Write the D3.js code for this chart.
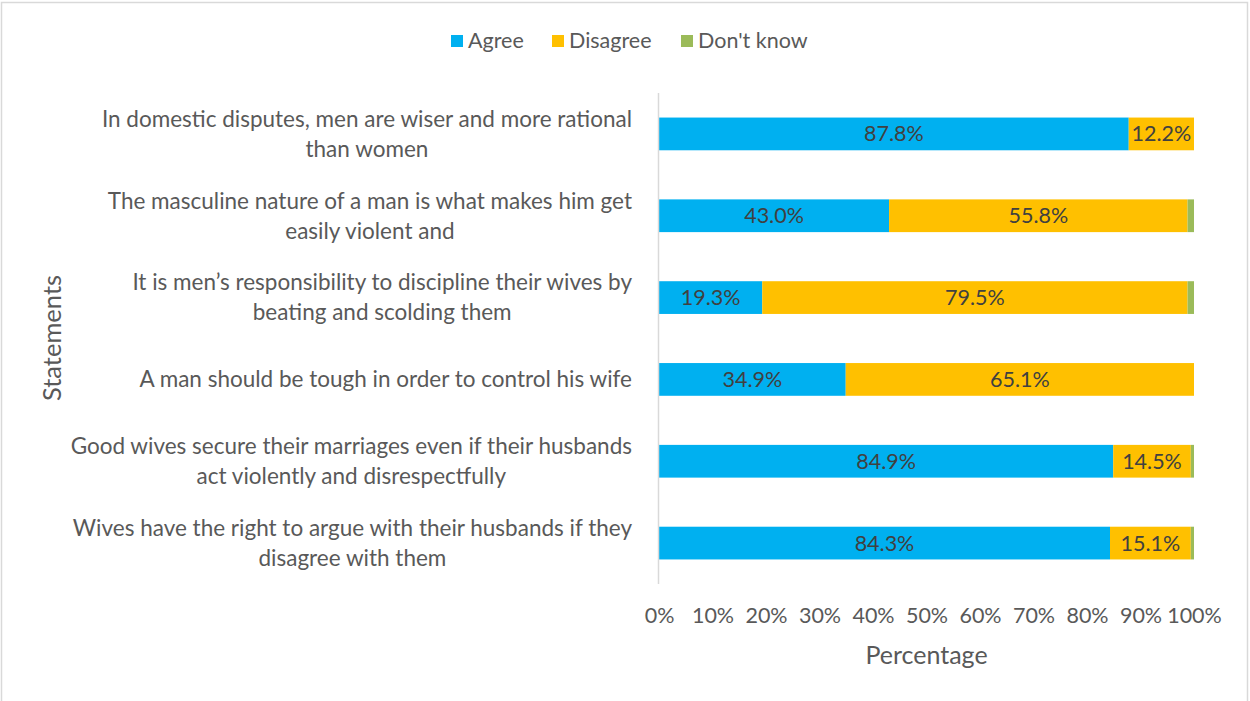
<!DOCTYPE html>
<html>
<head>
<meta charset="utf-8">
<script src="https://cdn.jsdelivr.net/npm/d3@7"></script>
<style>
  html, body { margin: 0; padding: 0; background: #fff; }
  svg { display: block; font-family: Lato, "Open Sans", sans-serif; }
</style>
</head>
<body>
<svg id="chart" width="1250" height="701"></svg>
<script>
// Statements (each entry is the list of wrapped lines)
const statements = [
  ["In domestic disputes, men are wiser and more rational", "than women"],
  ["The masculine nature of a man is what makes him get", "easily violent and"],
  ["It is men\u2019s responsibility to discipline their wives by", "beating and scolding them"],
  ["A man should be tough in order to control his wife"],
  ["Good wives secure their marriages even if their husbands", "act violently and disrespectfully"],
  ["Wives have the right to argue with their husbands if they", "disagree with them"]
];
const seriesNames = ["Agree", "Disagree", "Don't know"];
const agree    = [87.8, 43.0, 19.3, 34.9, 84.9, 84.3];
const disagree = [12.2, 55.8, 79.5, 65.1, 14.5, 15.1];
const dontKnow = [0.0, 1.2, 1.2, 0.0, 0.6, 0.6];
const tickValues = [0, 10, 20, 30, 40, 50, 60, 70, 80, 90, 100];
const colors = ["#00B0F0", "#FFC000", "#9BBB59"];

const svg = d3.select("#chart");
const W = 1250, H = 701;

// chart frame
svg.append("rect")
  .attr("x", 1.5).attr("y", 2.5)
  .attr("width", W - 4).attr("height", H + 10)
  .attr("fill", "none").attr("stroke", "#d9d9d9").attr("stroke-width", 1.5);

const plot = { left: 659, right: 1194, top: 93, bottom: 584 };

const x = d3.scaleLinear().domain([0, 100]).range([plot.left, plot.right]);
const y = d3.scaleBand()
  .domain(d3.range(statements.length))
  .range([plot.top, plot.bottom])
  .paddingInner(0.6).paddingOuter(0.3);

const rows = statements.map((s, i) => ({
  i, lines: s, values: [agree[i], disagree[i], dontKnow[i]]
}));
const stacked = d3.stack().keys([0, 1, 2]).value((d, k) => d.values[k])(rows);

// bars
stacked.forEach((layer, k) => {
  svg.append("g").selectAll("rect")
    .data(layer)
    .join("rect")
    .attr("x", d => x(d[0]))
    .attr("y", (d, i) => y(i))
    .attr("width", d => Math.max(0, x(d[1]) - x(d[0])))
    .attr("height", y.bandwidth())
    .attr("fill", colors[k]);
});

// data labels for Agree and Disagree
stacked.slice(0, 2).forEach((layer, k) => {
  svg.append("g").selectAll("text")
    .data(layer)
    .join("text")
    .attr("x", d => (x(d[0]) + x(d[1])) / 2)
    .attr("y", (d, i) => y(i) + y.bandwidth() / 2)
    .attr("dy", "0.35em")
    .attr("text-anchor", "middle")
    .attr("font-size", 21.5)
    .attr("fill", "#404040")
    .text(d => (d[1] - d[0]).toFixed(1) + "%");
});

// vertical category axis line
svg.append("line")
  .attr("x1", plot.left - 0.5).attr("x2", plot.left - 0.5)
  .attr("y1", plot.top).attr("y2", plot.bottom)
  .attr("stroke", "#d9d9d9").attr("stroke-width", 1.5);

// x axis tick labels
const xAxis = d3.axisBottom(x)
  .tickValues(tickValues)
  .tickSize(0)
  .tickFormat(d => d + "%");
const gx = svg.append("g")
  .attr("transform", `translate(0,${plot.bottom + 21})`)
  .call(xAxis);
gx.select(".domain").remove();
gx.selectAll("text")
  .attr("font-family", "Lato, 'Open Sans', sans-serif")
  .attr("font-size", 21.5)
  .attr("fill", "#595959");

// category labels: centred lines, block right-aligned against the axis
const labelRight = 632;
rows.forEach(r => {
  const g = svg.append("g");
  const n = r.lines.length;
  const cy = y(r.i) + y.bandwidth() / 2;
  const texts = r.lines.map((line, j) =>
    g.append("text")
      .attr("y", cy + (j - (n - 1) / 2) * 30)
      .attr("dy", "0.35em")
      .attr("text-anchor", "middle")
      .attr("font-size", 22.5)
      .attr("fill", "#595959")
      .text(line)
  );
  const maxW = d3.max(texts, t => t.node().getComputedTextLength());
  texts.forEach(t => t.attr("x", labelRight - maxW / 2));
});

// axis titles
svg.append("text")
  .attr("x", (plot.left + plot.right) / 2)
  .attr("y", 655)
  .attr("dy", "0.35em")
  .attr("text-anchor", "middle")
  .attr("font-size", 25)
  .attr("fill", "#595959")
  .text("Percentage");

svg.append("text")
  .attr("transform", "translate(52,338) rotate(-90)")
  .attr("dy", "0.35em")
  .attr("text-anchor", "middle")
  .attr("font-size", 25.5)
  .attr("fill", "#595959")
  .text("Statements");

// legend
const legendItems = [
  { name: seriesNames[0], color: colors[0], x: 451 },
  { name: seriesNames[1], color: colors[1], x: 552 },
  { name: seriesNames[2], color: colors[2], x: 681 }
];
const lg = svg.append("g").selectAll("g")
  .data(legendItems)
  .join("g")
  .attr("transform", d => `translate(${d.x},41)`);
lg.append("rect")
  .attr("x", 0).attr("y", -6)
  .attr("width", 12).attr("height", 12)
  .attr("fill", d => d.color);
lg.append("text")
  .attr("x", 17)
  .attr("y", -1)
  .attr("dy", "0.35em")
  .attr("font-size", 21.5)
  .attr("fill", "#595959")
  .text(d => d.name);
</script>
</body>
</html>
